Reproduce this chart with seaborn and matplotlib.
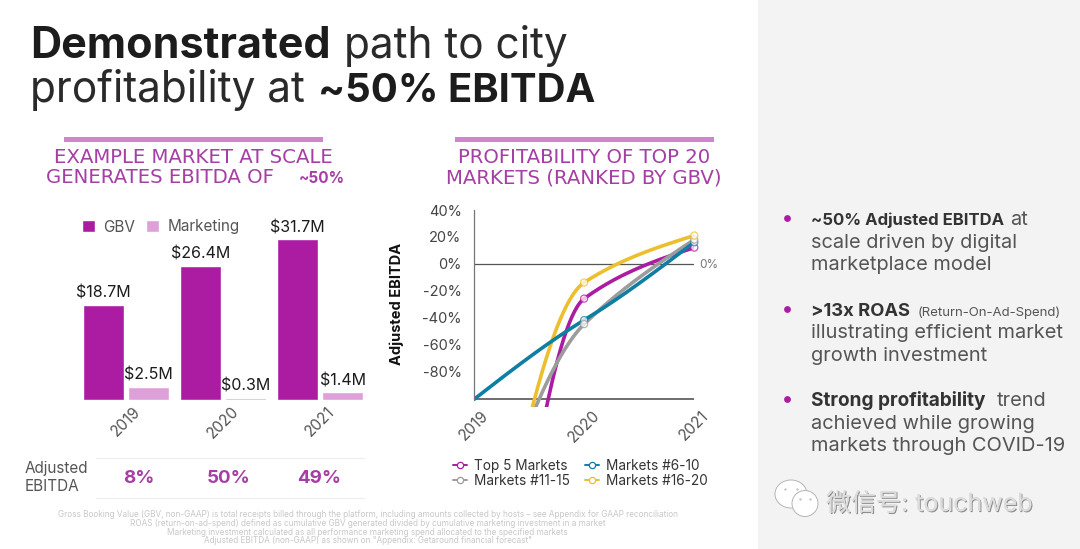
import numpy as np
import pandas as pd
import matplotlib
matplotlib.use('Agg')
import matplotlib.pyplot as plt
import matplotlib.patheffects as pe
from matplotlib.lines import Line2D
from matplotlib.patches import Ellipse, Rectangle
import seaborn as sns

# bar chart data
bar_years = ['2019', '2020', '2021']
gbv = [18.7, 26.4, 31.7]
marketing = [2.5, 0.3, 1.4]
ebitda_labels = ['8%', '50%', '49%']

# line chart data (2019 values of the first, third and fourth series sit off the chart)
line_years = [2019, 2020, 2021]
top5 = [-475, -26, 12]
m6_10 = [-101, -42, 16]
m11_15 = [-232, -45, 18]
m16_20 = [-310, -14, 21]
y_ticks = [40, 20, 0, -20, -40, -60, -80]

PURPLE = '#ab1ca3'
PINK = '#dda0d8'
HEAD = '#a63fa5'
BLUE = '#0f7ea3'
GRAY = '#9c9c9c'
YELLOW = '#ecbf2e'
DARK = '#3c3c3c'
W, H = 1080, 549

sns.set_theme(style='white')
plt.rcParams['font.family'] = ['Inter', 'Noto Sans CJK SC', 'DejaVu Sans']


def axes_px(fig, left, top, right, bottom):
    return fig.add_axes([left / W, 1 - bottom / H, (right - left) / W, (bottom - top) / H])


def smooth(x, y, n=80):
    # monotone cubic through the points, same look as the slide's smoothed lines
    x = np.array(x, dtype=float)
    y = np.array(y, dtype=float)
    d = np.diff(y) / np.diff(x)
    mid = 1.7 / (1 / d[0] + 1 / d[1])
    m = [(3 * d[0] - mid) / 2, mid, (3 * d[1] - mid) / 2]
    xs, ys = [], []
    for i in range(2):
        s = np.linspace(0, 1, n)
        h = x[i + 1] - x[i]
        ys.append((2*s**3 - 3*s**2 + 1) * y[i] + (s**3 - 2*s**2 + s) * h * m[i]
                  + (-2*s**3 + 3*s**2) * y[i + 1] + (s**3 - s**2) * h * m[i + 1])
        xs.append(x[i] + s * h)
    return np.concatenate(xs), np.concatenate(ys)


fig = plt.figure(figsize=(W / 100, H / 100), dpi=100, facecolor='white')

# page layer in pixel coordinates
bg = fig.add_axes([0, 0, 1, 1], zorder=0)
bg.set_xlim(0, W)
bg.set_ylim(H, 0)
bg.axis('off')
bg.add_patch(Rectangle((758, 0), W - 758, H, color='#f3f3f3', lw=0))
bg.add_patch(Rectangle((64, 137), 259, 5, color='#cf86cc', lw=0))
bg.add_patch(Rectangle((455, 137), 259, 5, color='#cf86cc', lw=0))


def put(x, y, s, size, weight='normal', color=DARK, ha='left', **kw):
    return bg.text(x, y, s, fontsize=size, fontweight=weight, color=color, ha=ha,
                   va='baseline', **kw)


# title
put(30, 58, 'Demonstrated', 31, 'bold', '#1c1c1c')
put(344, 58, 'path to city', 30.5, 'normal', '#2a2a2a')
put(30, 102, 'profitability at', 30.5, 'normal', '#2a2a2a')
put(318, 102, '~50% EBITDA', 28.8, 'bold', '#1c1c1c')

# panel headings, the wider face stands in for the slide's letter spacing
HEAD_FONT = 'DejaVu Sans'
HEAD_SIZE = 14.2
put(193, 163, 'EXAMPLE MARKET AT SCALE', HEAD_SIZE, color=HEAD, ha='center', family=HEAD_FONT)
put(46, 183, 'GENERATES EBITDA OF', HEAD_SIZE, color=HEAD, family=HEAD_FONT)
put(299, 183, '~50%', 11, 'bold', HEAD)
put(584, 163, 'PROFITABILITY OF TOP 20', HEAD_SIZE, color=HEAD, ha='center', family=HEAD_FONT)
put(584, 183, 'MARKETS (RANKED BY GBV)', HEAD_SIZE, color=HEAD, ha='center', family=HEAD_FONT)

# bars
df_bar = pd.DataFrame({'year': bar_years * 2, 'value': gbv + marketing,
                       'kind': ['GBV'] * 3 + ['Marketing'] * 3})
ax = axes_px(fig, 77.5, 230, 368.5, 399.5)
ax.patch.set_alpha(0)
sns.barplot(data=df_bar, x='year', y='value', hue='kind', palette=[PURPLE, PINK],
            width=0.928, gap=0.09, saturation=1, ax=ax)
ax.set_xlim(-0.5, 2.5)
ax.set_ylim(0, 33.56)
for c in ax.containers:
    ax.bar_label(c, fmt='$%.1fM', padding=3, fontsize=11.5, color='#1c1c1c', clip_on=False)
ax.set_xlabel('')
ax.set_ylabel('')
ax.set_yticks([])
ax.tick_params(axis='x', length=0, pad=3, labelsize=11, labelcolor='#555555')
plt.setp(ax.get_xticklabels(), rotation=45)
sns.despine(ax=ax, left=True, bottom=True)
handles, labels = ax.get_legend_handles_labels()
ax.legend(handles, labels, ncol=2, frameon=False, loc='center left',
          bbox_to_anchor=(68 / W, 1 - 227 / H), bbox_transform=fig.transFigure,
          fontsize=11, handlelength=0.85, handleheight=0.85, handletextpad=0.55,
          columnspacing=0.75, labelcolor='#555555')

# EBITDA strip
bg.plot([96, 364], [458, 458], color='#f0f0f0', lw=1)
bg.plot([96, 364], [498, 498], color='#f0f0f0', lw=1)
put(25, 473, 'Adjusted', 11, color='#555555')
put(25, 491, 'EBITDA', 11, color='#555555')
for cx, s in zip([139, 229, 319], ebitda_labels):
    put(cx, 483, s, 13.5, 'bold', HEAD, ha='center')

# lines
series = {'Top 5 Markets': top5, 'Markets #6-10': m6_10,
          'Markets #11-15': m11_15, 'Markets #16-20': m16_20}
colors = {'Top 5 Markets': PURPLE, 'Markets #6-10': BLUE,
          'Markets #11-15': GRAY, 'Markets #16-20': YELLOW}
frames = []
for name in ['Top 5 Markets', 'Markets #11-15', 'Markets #16-20', 'Markets #6-10']:
    xs, ys = smooth(line_years, series[name])
    frames.append(pd.DataFrame({'year': xs, 'pct': ys, 'series': name}))
df_line = pd.concat(frames)
df_pts = pd.DataFrame({'year': line_years[1:] * 4,
                       'pct': [v for k in series for v in series[k][1:]],
                       'series': [k for k in series for _ in line_years[1:]]})

ax2 = axes_px(fig, 474, 210, 694.3, 406.7)
ax2.patch.set_alpha(0)
sns.lineplot(data=df_line, x='year', y='pct', hue='series', palette=colors, lw=2.6,
             sort=False, estimator=None, legend=False, ax=ax2)
sns.scatterplot(data=df_pts, x='year', y='pct', hue='series', palette=colors, s=26,
                legend=False, ax=ax2, zorder=5, clip_on=False, linewidth=0)
pts = ax2.collections[-1]
pts.set_facecolor('white')
pts.set_edgecolors([colors[k] for k in df_pts['series']])
pts.set_linewidth(0.9)
pts.set_alpha(0.75)
ax2.set_xlim(2019, 2021)
ax2.set_ylim(-106.5, 40)
ax2.axhline(0, color='#555555', lw=0.9, zorder=1)
ax2.axhline(-101, color='#555555', lw=1.2, zorder=1)
ax2.set_xlabel('')
ax2.set_ylabel('Adjusted EBITDA', fontsize=10.5, fontweight='bold', color='#111111')
ax2.yaxis.set_label_coords((396 - 474) / 220.3 + 0.035, 0.52)
ax2.set_xticks(line_years)
ax2.set_yticks(y_ticks)
ax2.set_yticklabels([f'{v}%' for v in y_ticks])
ax2.tick_params(axis='x', length=0, pad=1, labelsize=11, labelcolor='#555555')
ax2.tick_params(axis='y', length=0, pad=9, labelsize=10.5, labelcolor='#444444')
plt.setp(ax2.get_xticklabels(), rotation=45)
sns.despine(ax=ax2, bottom=True)
ax2.spines['left'].set_bounds(-101, 40)
ax2.spines['left'].set_color('#777777')
ax2.spines['left'].set_linewidth(0.9)
put(699, 268, '0%', 8.5, color='#777777')

legend_items = ['Top 5 Markets', 'Markets #11-15', 'Markets #6-10', 'Markets #16-20']
legend_handles = [Line2D([], [], color=colors[k], lw=1.4, marker='o', ms=4.5,
                         mfc='white', mec=colors[k], mew=0.9) for k in legend_items]
ax2.legend(legend_handles, legend_items, ncol=2, frameon=False, loc='center left',
           bbox_to_anchor=(453 / W, 1 - 473.5 / H), bbox_transform=fig.transFigure,
           fontsize=9.8, handlelength=1.0, handletextpad=0.55, columnspacing=1.1,
           labelspacing=0.1, labelcolor='#333333', borderpad=0, borderaxespad=0)

# footnotes
notes = ['Gross Booking Value (GBV, non-GAAP) is total receipts billed through the platform, including amounts collected by hosts – see Appendix for GAAP reconciliation',
         'ROAS (return-on-ad-spend) defined as cumulative GBV generated divided by cumulative marketing investment in a market',
         'Marketing investment calculated as all performance marketing spend allocated to the specified markets',
         'Adjusted EBITDA (non-GAAP) as shown on "Appendix: Getaround financial forecast"']
for yy, s in zip([517, 526, 535, 543], notes):
    put(367.5, yy, s, 5.9, 'normal', '#c8c8c8', ha='center')

# right column
for yy in [218, 309, 399]:
    bg.scatter([787], [yy], s=24, color=PURPLE, lw=0, zorder=3)
SIDE = 14.4
put(811, 225, '~50% Adjusted EBITDA', 12, 'bold', '#333333')
put(1010, 225, 'at', SIDE, color='#555555')
put(811, 248, 'scale driven by digital', SIDE, color='#555555')
put(811, 270, 'marketplace model', SIDE, color='#555555')
put(811, 316, '>13x ROAS', 13.2, 'bold', '#333333')
put(918, 316, '(Return-On-Ad-Spend)', 9.5, color='#555555')
put(811, 338, 'illustrating efficient market', SIDE, color='#555555')
put(811, 361, 'growth investment', SIDE, color='#555555')
put(811, 406, 'Strong profitability', 13.7, 'bold', '#333333')
put(997, 406, 'trend', SIDE, color='#555555')
put(811, 429, 'achieved while growing', SIDE, color='#555555')
put(811, 451, 'markets through COVID-19', SIDE, color='#555555')

# watermark
for cx, cy, w, h in [(791, 494, 32, 28), (805, 503.5, 26, 26)]:
    bg.add_patch(Ellipse((cx, cy), w, h, fc='white', ec='#b5b5b5', lw=0.7, zorder=4))
bg.scatter([785, 797, 800, 810], [489, 489, 499, 499], s=3, color='#c4c4c4', lw=0, zorder=5)
wm = put(826, 511, '微信号: touchweb', 18, color='#dcdcdc', zorder=4)
wm.set_path_effects([pe.withSimplePatchShadow(offset=(0.8, -0.8), shadow_rgbFace='#777777', alpha=0.8),
                     pe.Normal()])

fig.savefig('out.png', dpi=100, facecolor='white')
